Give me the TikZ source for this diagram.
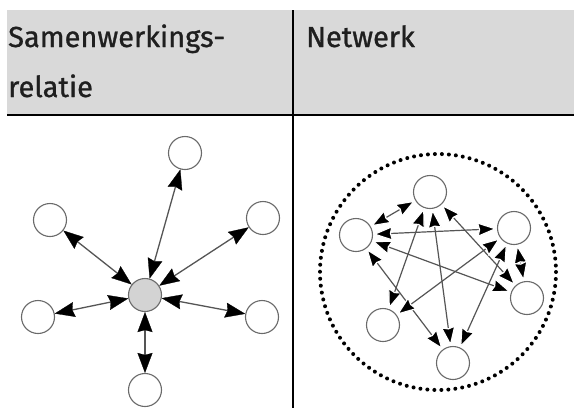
\documentclass[tikz,border=0pt]{standalone}
\usepackage{fontspec}
\setmainfont{Fira Sans}
\newfontfamily\headfont{Fira Sans}[FakeBold=1]
\usetikzlibrary{arrows.meta}
\definecolor{headgray}{HTML}{D9D9D9}
\definecolor{rim}{HTML}{6A6A6A}
\definecolor{hub}{HTML}{D3D3D3}
\definecolor{linkgray}{HTML}{555555}
\begin{document}
\begin{tikzpicture}[x=1pt,y=-1pt,
  nd/.style={circle,draw=rim,fill=white,line width=1.1pt,minimum size=33pt,inner sep=0pt},
  hubnd/.style={nd,fill=hub},
  tipstar/.tip={Stealth[length=20pt,width=15pt,inset=2pt,fill=black,color=black,line width=0.3pt]},
  tipnet/.tip={Stealth[length=20pt,width=15pt,inset=2pt,fill=black,color=white,line width=1.2pt]},
  link/.style={tipstar-tipstar,draw=linkgray,line width=1.3pt},
  netlink/.style={tipnet-tipnet,draw=linkgray,line width=1.2pt},
  head/.style={anchor=base west,inner sep=0pt,font=\headfont\fontsize{29}{34}\selectfont,text=black!88}
]
\useasboundingbox (0,0) rectangle (574,408);
\fill[white] (0,0) rectangle (574,408);
\fill[headgray] (7,10) rectangle (574,114);
\draw[line width=2.2pt] (7,115) -- (574,115);
\draw[line width=1.8pt] (293,10) -- (293,408);
\node[head] (h1) at (8,47) {Samenwerkings-};
\node[head] (h2) at (8,97) {relatie};
\node[head] (h3) at (306,47) {Netwerk};

% left panel: star
\node[hubnd] (c) at (145,295) {};
\node[nd] (s1) at (185,153) {};
\node[nd] (s2) at (50,220) {};
\node[nd] (s3) at (263,218) {};
\node[nd] (s4) at (38,317) {};
\node[nd] (s5) at (262,317) {};
\node[nd] (s6) at (145,390) {};
\foreach \n in {s1,s2,s3,s4,s5,s6} \draw[link] (c) -- (\n);

% right panel: network
\draw[line width=4pt,dash pattern=on 0pt off 7pt,line cap=round] (438,272) circle[radius=118];
\node[nd] (t) at (430,192) {};
\node[nd] (l) at (356,235) {};
\node[nd] (r) at (514,228) {};
\node[nd] (lr) at (527,298) {};
\node[nd] (ll) at (383,325) {};
\node[nd] (b) at (453,363) {};
\foreach \a/\b in {t/l,t/ll,t/b,t/lr,l/r,l/lr,l/b,r/ll,r/b,r/lr}
  \draw[netlink] (\a) -- (\b);
\end{tikzpicture}
\end{document}
